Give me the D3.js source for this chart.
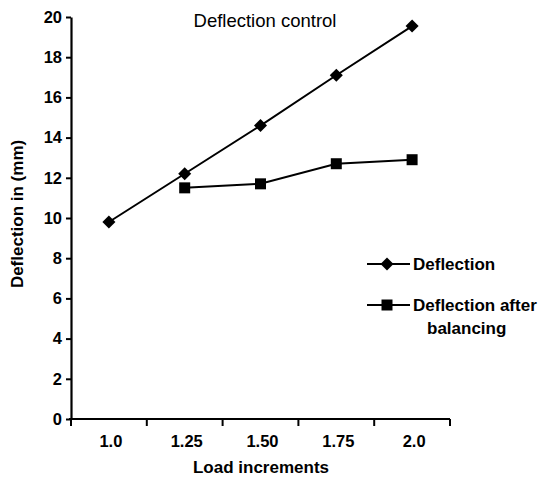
<!DOCTYPE html>
<html>
<head>
<meta charset="utf-8">
<script src="https://cdn.jsdelivr.net/npm/d3@7"></script>
<style>
  body { margin: 0; background: #fff; }
  svg text { font-family: "Liberation Sans", Arial, sans-serif; fill: #000; }
  .tick text { font-size: 16.5px; font-weight: bold; }
  .lbl { font-size: 17px; font-weight: bold; }
</style>
</head>
<body>
<div id="chart"></div>
<script>
// data
const loads = ["1.0", "1.25", "1.50", "1.75", "2.0"];
const deflection = [9.8, 12.2, 14.6, 17.1, 19.55];
const balancedLoads = ["1.25", "1.50", "1.75", "2.0"];
const deflectionBalanced = [11.5, 11.7, 12.7, 12.9];
const yTicks = [0, 2, 4, 6, 8, 10, 12, 14, 16, 18, 20];

const margin = {top: 17, right: 90, bottom: 59, left: 71},
    width = 540 - margin.left - margin.right,
    height = 478 - margin.top - margin.bottom;

const svg = d3.select("#chart")
  .append("svg")
    .attr("width", 540)
    .attr("height", 478)
  .append("g")
    .attr("transform", `translate(${margin.left},${margin.top})`);

// X axis: categories, ticks on band edges
const x = d3.scaleBand()
  .domain(loads)
  .range([0, 379]);

const y = d3.scaleLinear()
  .domain([0, 20])
  .range([height, 0]);

const xg = svg.append("g")
  .attr("transform", `translate(0, ${height})`)
  .call(d3.axisBottom(x).tickSize(0).tickPadding(16));
xg.select(".domain").remove();
xg.selectAll(".tick text").attr("dx", 2);

// axis line and band boundary ticks
svg.append("line")
  .attr("x1", -2).attr("x2", x.range()[1])
  .attr("y1", height).attr("y2", height)
  .attr("stroke", "#000").attr("stroke-width", 2.2);
const edges = loads.map(d => x(d)).concat([x.range()[1]]);
svg.append("g").selectAll("line")
  .data(edges)
  .join("line")
    .attr("x1", d => d).attr("x2", d => d)
    .attr("y1", height).attr("y2", height + 7)
    .attr("stroke", "#000").attr("stroke-width", 2);

// Y axis
const yg = svg.append("g")
  .call(d3.axisLeft(y).tickValues(yTicks).tickSize(5).tickSizeOuter(0).tickPadding(4));
yg.select(".domain").attr("stroke-width", 2.2);
yg.selectAll(".tick line").attr("stroke-width", 2);

const cx = d => x(d) + x.bandwidth() / 2;

const s1 = loads.map((d, i) => ({load: d, value: deflection[i]}));
const s2 = balancedLoads.map((d, i) => ({load: d, value: deflectionBalanced[i]}));

const line = d3.line()
  .x(d => cx(d.load))
  .y(d => y(d.value));

svg.append("path")
  .datum(s1)
  .attr("fill", "none")
  .attr("stroke", "#000")
  .attr("stroke-width", 2)
  .attr("d", line);

svg.append("path")
  .datum(s2)
  .attr("fill", "none")
  .attr("stroke", "#000")
  .attr("stroke-width", 2)
  .attr("d", line);

const diamond = d3.symbol().type(d3.symbolSquare).size(85);
svg.append("g").selectAll("path")
  .data(s1)
  .join("path")
    .attr("transform", d => `translate(${cx(d.load)},${y(d.value)}) rotate(45)`)
    .attr("d", diamond)
    .attr("fill", "#000");

const square = d3.symbol().type(d3.symbolSquare).size(121);
svg.append("g").selectAll("path")
  .data(s2)
  .join("path")
    .attr("transform", d => `translate(${cx(d.load)},${y(d.value)})`)
    .attr("d", square)
    .attr("fill", "#000");

// title
svg.append("text")
  .attr("x", 194)
  .attr("y", 10)
  .attr("text-anchor", "middle")
  .style("font-size", "18.5px")
  .text("Deflection control");

// axis labels
svg.append("text")
  .attr("class", "lbl")
  .attr("x", 190)
  .attr("y", height + 54)
  .attr("text-anchor", "middle")
  .text("Load increments");

svg.append("text")
  .attr("class", "lbl")
  .attr("transform", `translate(-48, ${y(10.2)}) rotate(-90)`)
  .attr("text-anchor", "middle")
  .text("Deflection in (mm)");

// legend
const lg = svg.append("g").attr("transform", "translate(296, 0)");
const legendY = [247, 288];
lg.append("line")
  .attr("x1", 0).attr("x2", 43)
  .attr("y1", legendY[0]).attr("y2", legendY[0])
  .attr("stroke", "#000").attr("stroke-width", 2);
lg.append("path")
  .attr("transform", `translate(20,${legendY[0]}) rotate(45)`)
  .attr("d", diamond).attr("fill", "#000");
lg.append("text")
  .attr("class", "lbl")
  .attr("x", 46).attr("y", legendY[0] + 6)
  .text("Deflection");

lg.append("line")
  .attr("x1", 0).attr("x2", 43)
  .attr("y1", legendY[1]).attr("y2", legendY[1])
  .attr("stroke", "#000").attr("stroke-width", 2);
lg.append("path")
  .attr("transform", `translate(20,${legendY[1]})`)
  .attr("d", square).attr("fill", "#000");
lg.append("text")
  .attr("class", "lbl")
  .attr("x", 46).attr("y", legendY[1] + 6)
  .text("Deflection after");
lg.append("text")
  .attr("class", "lbl")
  .attr("x", 60).attr("y", legendY[1] + 29)
  .text("balancing");
</script>
</body>
</html>
